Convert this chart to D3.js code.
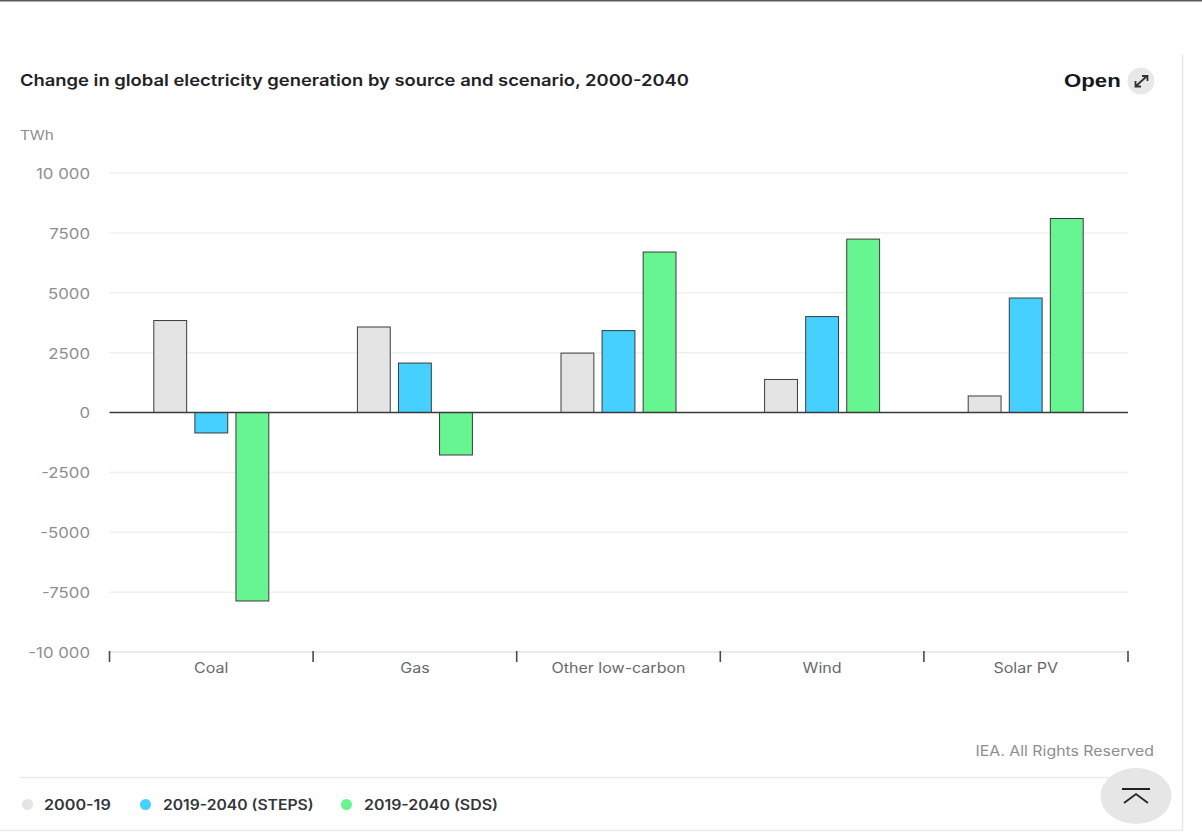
<!DOCTYPE html>
<html>
<head>
<meta charset="utf-8">
<title>Change in global electricity generation by source and scenario, 2000-2040</title>
<script src="https://cdn.jsdelivr.net/npm/d3@7/dist/d3.min.js"></script>
<style>
  html, body { margin: 0; padding: 0; background: #fff; }
  svg { display: block; font-family: Inter, "Noto Sans", sans-serif; }
</style>
</head>
<body>
<svg id="chart" width="1202" height="832"></svg>
<script>
// Source categories and scenario series (TWh)
const categories = ["Coal", "Gas", "Other low-carbon", "Wind", "Solar PV"];
const seriesNames = ["2000-19", "2019-2040 (STEPS)", "2019-2040 (SDS)"];
const seriesColors = ["#e4e4e4", "#45d0ff", "#66f590"];
const history2000to2019 = [3840, 3570, 2480, 1380, 690];
const steps2019to2040 = [-855, 2065, 3420, 4005, 4780];
const sds2019to2040 = [-7870, -1775, 6700, 7240, 8100];
const seriesValues = [history2000to2019, steps2019to2040, sds2019to2040];
const yTicks = [-10000, -7500, -5000, -2500, 0, 2500, 5000, 7500, 10000];
const yTickLabels = ["-10 000", "-7500", "-5000", "-2500", "0", "2500", "5000", "7500", "10 000"];

const plot = { left: 109.5, right: 1128, top: 173, bottom: 652 };
const svg = d3.select("#chart");

const x = d3.scaleBand().domain(categories).range([plot.left, plot.right - 0.5]);
const xInner = d3.scaleBand().domain(seriesNames).range([0, 115]).paddingInner(0.2);
const y = d3.scaleLinear().domain([-10000, 10000]).range([plot.bottom, plot.top]);

// The house typeface runs wide, so stretch the text horizontally to its natural measure times a factor
function widen(selection, factor) {
  selection.each(function (d, i) {
    const f = typeof factor === "function" ? factor(d, i) : factor;
    d3.select(this)
      .attr("textLength", (this.getComputedTextLength() * f).toFixed(1))
      .attr("lengthAdjust", "spacingAndGlyphs");
  });
}

// Page furniture: top rule, card edges, section divider
svg.append("rect").attr("x", 0).attr("y", 0).attr("width", 1202).attr("height", 1.5).attr("fill", "#5a5a5a");
svg.append("line").attr("x1", 1182.5).attr("x2", 1182.5).attr("y1", 55).attr("y2", 831).attr("stroke", "#e8e8e8").attr("stroke-width", 1.5);
svg.append("line").attr("x1", 0).attr("x2", 1182).attr("y1", 830.5).attr("y2", 830.5).attr("stroke", "#ececec").attr("stroke-width", 1.5);
svg.append("line").attr("x1", 20).attr("x2", 1155).attr("y1", 777.5).attr("y2", 777.5).attr("stroke", "#ececec").attr("stroke-width", 1.5);

// Heading
svg.append("text").attr("x", 20).attr("y", 86).attr("font-size", 16).attr("font-weight", 600)
  .attr("fill", "#1f2328").attr("textLength", 669).attr("lengthAdjust", "spacingAndGlyphs")
  .text("Change in global electricity generation by source and scenario, 2000-2040");
svg.append("text").attr("x", 20).attr("y", 140).attr("font-size", 13).attr("fill", "#8d8d8d")
  .text("TWh").call(widen, 1.17);

// "Open" control
svg.append("text").attr("x", 1064).attr("y", 87).attr("font-size", 18.5).attr("font-weight", 700)
  .attr("font-family", "Liberation Sans, sans-serif").attr("fill", "#15181c")
  .text("Open").call(widen, 1.2);
svg.append("circle").attr("cx", 1141).attr("cy", 81).attr("r", 13.5).attr("fill", "#e8e8e8");
svg.append("path").attr("d", "M1136 86L1147 76M1142 76H1147.5V81M1135.5 81V86.5H1141")
  .attr("fill", "none").attr("stroke", "#333").attr("stroke-width", 1.8);

// Value axis with full-width grid lines
const yAxis = d3.axisLeft(y).tickValues(yTicks).tickSize(0).tickPadding(0)
  .tickFormat((d, i) => yTickLabels[i]);
const yGroup = svg.append("g").attr("transform", `translate(90,1)`).call(yAxis);
yGroup.select(".domain").remove();
yGroup.selectAll("text").attr("font-size", 14).attr("font-family", "Inter, sans-serif").attr("fill", "#8e8e8e")
  .call(widen, 1.2);

svg.append("g").selectAll("line").data(yTicks.filter(d => d !== 0 && d !== -10000)).join("line")
  .attr("x1", plot.left).attr("x2", plot.right)
  .attr("y1", d => y(d)).attr("y2", d => y(d))
  .attr("stroke", "#f0f0f0").attr("stroke-width", 1.5);

// Grouped bars
const groups = svg.append("g").selectAll("g").data(categories).join("g")
  .attr("transform", c => `translate(${x(c) + x.bandwidth() / 2 - 57.5},0)`);
groups.selectAll("rect")
  .data((c, i) => seriesNames.map((s, k) => ({ s, k, v: seriesValues[k][i] })))
  .join("rect")
  .attr("x", d => xInner(d.s))
  .attr("width", xInner.bandwidth())
  .attr("y", d => y(Math.max(d.v, 0)))
  .attr("height", d => Math.abs(y(d.v) - y(0)))
  .attr("fill", d => seriesColors[d.k])
  .attr("stroke", "#3c3c3c")
  .attr("stroke-width", 1);

// Zero line over the bars
svg.append("line").attr("x1", plot.left).attr("x2", plot.right)
  .attr("y1", y(0)).attr("y2", y(0)).attr("stroke", "#3a3a3a").attr("stroke-width", 1.5);

// Category axis: labels centred in each band, ticks on band edges
const xAxis = d3.axisBottom(x).tickSize(0).tickPadding(11);
const xGroup = svg.append("g").attr("transform", `translate(0,${plot.bottom})`).call(xAxis);
xGroup.select(".domain").remove();
xGroup.selectAll("text").attr("font-size", 14).attr("font-family", "Inter, sans-serif").attr("fill", "#666a70")
  .call(widen, 1.145);
svg.append("line").attr("x1", plot.left).attr("x2", plot.right).attr("y1", plot.bottom).attr("y2", plot.bottom)
  .attr("stroke", "#ccd6eb").attr("stroke-width", 1);
const bandEdges = categories.map(c => x(c)).concat(plot.right);
svg.append("g").selectAll("line").data(bandEdges).join("line")
  .attr("x1", d => d).attr("x2", d => d)
  .attr("y1", plot.bottom - 1).attr("y2", plot.bottom + 10)
  .attr("stroke", "#4a4a4a").attr("stroke-width", 1.6);

// Credit
svg.append("text").attr("x", 1154).attr("y", 756).attr("text-anchor", "end")
  .attr("font-size", 14).attr("fill", "#8e8e8e").text("IEA. All Rights Reserved").call(widen, 1.133);

// Legend
const legendDotX = [27.5, 145.5, 346.5];
const legendTextX = [44, 163, 364];
const legendStretch = [1.155, 1.12, 1.137];
const legend = svg.append("g").selectAll("g").data(seriesNames).join("g");
legend.append("circle").attr("cx", (d, i) => legendDotX[i]).attr("cy", 804.5).attr("r", 5.5)
  .attr("fill", (d, i) => seriesColors[i]);
legend.append("text").attr("x", (d, i) => legendTextX[i]).attr("y", 809.5)
  .attr("font-size", 14).attr("font-weight", 600).attr("fill", "#33363a").text(d => d)
  .call(widen, (d, i) => legendStretch[i]);

// Back-to-top button
svg.append("ellipse").attr("cx", 1136).attr("cy", 796).attr("rx", 35.5).attr("ry", 28).attr("fill", "#e6e6e6");
svg.append("path").attr("d", "M1122 789H1150M1124 803L1136 794L1148 803")
  .attr("fill", "none").attr("stroke", "#222").attr("stroke-width", 1.8);
</script>
</body>
</html>
